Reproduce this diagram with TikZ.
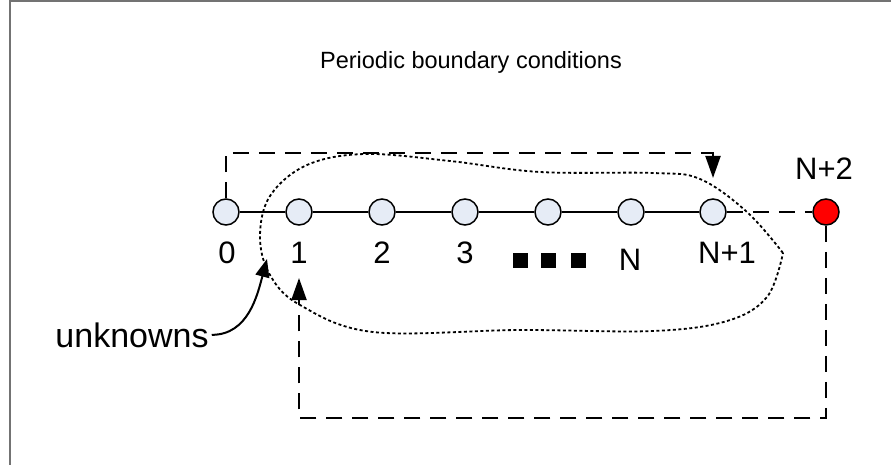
\documentclass[tikz,border=0pt]{standalone}
\usepackage{fontspec}
\setmainfont{Liberation Sans}
\usetikzlibrary{arrows.meta}

\definecolor{sitefill}{RGB}{230,236,246}

\begin{document}
\begin{tikzpicture}[x=1pt, y=-1pt,
  site/.style={circle, draw, line width=1.5pt, fill=sitefill, minimum size=26pt, inner sep=0pt},
  lbl/.style={anchor=base, inner sep=0pt, font=\fontsize{31}{36}\selectfont},
  dashline/.style={line width=2pt, dash pattern=on 16pt off 10pt},
  tip/.style={-{Triangle[length=22pt, width=15pt]}},
  dotsq/.style={fill=black, minimum size=15pt, inner sep=0pt}]
\useasboundingbox (0,0) rectangle (891,465);
\draw[black!55, line width=2pt] (10,465) -- (10,1) -- (891,1);

\node[anchor=base, font=\fontsize{23.5}{28}\selectfont] (title) at (471,69) {Periodic boundary conditions};

% lattice sites
\node[site] (s0) at (226,212) {};
\node[site] (s1) at (299,212) {};
\node[site] (s2) at (382,212) {};
\node[site] (s3) at (465,212) {};
\node[site] (s4) at (548,212) {};
\node[site] (sN) at (631,212) {};
\node[site] (sN1) at (713,212) {};
\node[site, fill=red] (sN2) at (826,212) {};
\draw[line width=1.5pt] (s0) -- (s1) -- (s2) -- (s3) -- (s4) -- (sN) -- (sN1);
\draw[line width=1.5pt, dash pattern=on 16pt off 10pt] (sN1) -- (sN2);

\node[lbl] (l0) at (227,263) {0};
\node[lbl] (l1) at (299,263) {1};
\node[lbl] (l2) at (382,263) {2};
\node[lbl] (l3) at (465,263) {3};
\node[lbl] (lN) at (630,270) {N};
\node[lbl] (lN1) at (727,263) {N+1};
\node[lbl] (lN2) at (824,180) {N+2};
\node[dotsq] (d1) at (520,260) {};
\node[dotsq] (d2) at (548,260) {};
\node[dotsq] (d3) at (578,260) {};

% periodic wrap-around
\coordinate (topA) at (713,153);
\coordinate (tipA) at (713,178);
\coordinate (botB) at (299,418);
\coordinate (tipB) at (299,278);
\draw[dashline, tip] (s0.north) |- (topA) -- (tipA);
\draw[dashline, tip] (sN2.south) |- (botB) -- (tipB);

% unknowns region
\draw[line width=1.8pt, dash pattern=on 3pt off 2.5pt] plot[smooth, tension=0.6] coordinates {
  (783,253) (747,212) (700,179) (653,173) (540,172) (450,161) (365,154) (307,165)
  (270,196) (260,237) (270,275) (300,305) (373,332) (520,330) (653,331) (727,321)
  (767,297) (783,253)};

\node[anchor=base, inner sep=3pt, font=\fontsize{34}{40}\selectfont] (unk) at (132,347) {unknowns};
\draw[line width=2pt, -{Triangle[length=18pt, width=14pt]}] (unk.east) to[out=0, in=-105] (267,259);
\end{tikzpicture}
\end{document}
